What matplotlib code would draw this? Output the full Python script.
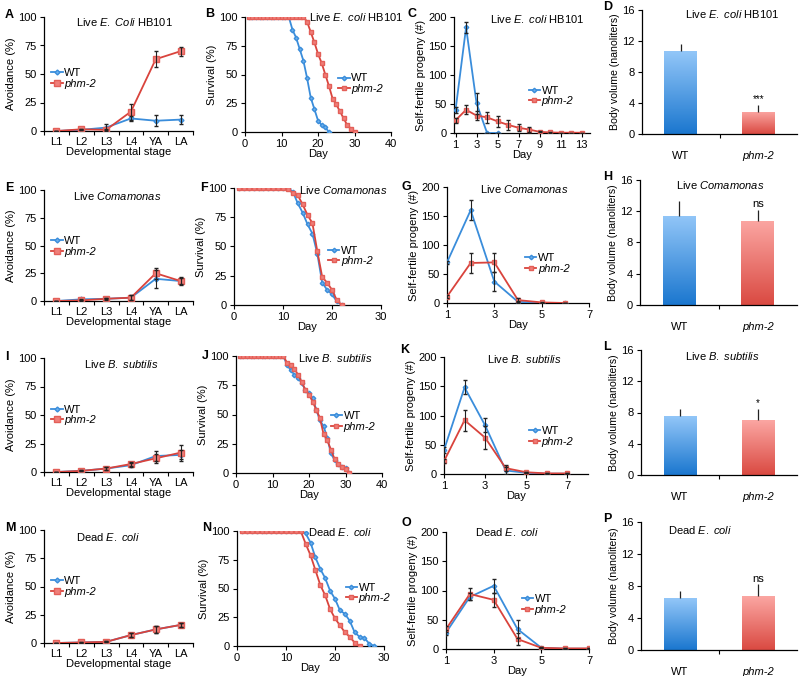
import numpy as np
import matplotlib
matplotlib.use("Agg")
import matplotlib.pyplot as plt
from matplotlib.colors import LinearSegmentedColormap

plt.rcParams["font.family"] = ["Liberation Sans", "DejaVu Sans"]
plt.rcParams["mathtext.fontset"] = "custom"
plt.rcParams["mathtext.rm"] = "Liberation Sans"
plt.rcParams["mathtext.it"] = "Liberation Sans:italic"
plt.rcParams["font.size"] = 8

# ---------------- data ----------------
stages = ["L1", "L2", "L3", "L4", "YA", "LA"]

# avoidance (%)
avoid_titles = [r"Live $\mathit{E.\ Coli}$ HB101", r"Live $\mathit{Comamonas}$",
                r"Live $\mathit{B.\ subtilis}$", r"Dead $\mathit{E.\ coli}$"]
avoid_wt = [[0, 1, 3, 11, 9, 10], [0, 1.5, 2, 3, 20, 18],
            [0, 1, 3, 6, 14, 15], [0, 0.5, 1, 7, 12, 16]]
avoid_wt_err = [[0, 0.5, 3, 2, 5, 4], [0, 0.5, 0.5, 2, 8, 3],
                [0, 0.5, 1, 2, 4, 4], [0, 0.3, 0.5, 1.5, 3, 2]]
avoid_ph = [[0, 1.5, 1, 17, 63, 70], [0, 0.5, 2, 3, 25, 18],
            [0, 1, 3, 7, 12, 17], [0, 0.5, 1, 7, 12, 16]]
avoid_ph_err = [[0, 0.5, 0.5, 7, 7, 4], [0, 0.3, 1, 2, 5, 4],
                [0, 0.5, 1, 2, 4, 7], [0, 0.3, 0.5, 1.5, 3, 2]]

# survival (%)
surv_titles = [r"Live $\mathit{E.\ coli}$ HB101", r"Live $\mathit{Comamonas}$",
               r"Live $\mathit{B.\ subtilis}$", r"Dead $\mathit{E.\ coli}$"]
surv_xmax = [40, 30, 40, 30]
surv_wt = [
    [100] * 12 + [89, 82, 72, 62, 47, 30, 20, 10, 6, 4, 0],
    [100] * 11 + [97, 87, 79, 69, 61, 44, 19, 13, 9, 3, 0],
    [100] * 13 + [92, 88, 84, 81, 77, 71, 68, 64, 54, 45, 40, 30, 17, 11, 8, 5, 4, 0],
    [100] * 13 + [98, 90, 77, 67, 59, 48, 41, 31, 28, 22, 12, 8, 7, 2, 0],
]
surv_ph = [
    [100] * 16 + [96, 87, 78, 68, 60, 50, 40, 29, 24, 18, 12, 6, 3, 0],
    [100] * 10 + [99, 96, 94, 86, 77, 70, 46, 24, 19, 13, 4, 0],
    [100] * 13 + [94, 92, 89, 84, 78, 71, 67, 61, 54, 47, 33, 28, 20, 12, 8, 5, 3, 0],
    [100] * 13 + [89, 79, 66, 53, 44, 32, 24, 18, 12, 8, 3, 0],
]

# self-fertile progeny (#)
prog_titles = [r"Live $\mathit{E.\ coli}$ HB101", r"Live $\mathit{Comamonas}$",
               r"Live $\mathit{B.\ subtilis}$", r"Dead $\mathit{E.\ coli}$"]
prog_wt = [[40, 182, 51, 0, 0], [70, 160, 37, 2, 0, 0],
           [41, 148, 83, 6, 2, 0.5, 0.5], [28, 89, 108, 34, 2, 0.5, 0.5]]
prog_wt_err = [[5, 10, 18, 0, 0], [3, 17, 16, 2, 0, 0],
               [5, 12, 12, 6, 1, 0, 0], [4, 6, 12, 15, 1, 0, 0]]
prog_ph = [[22, 40, 30, 27, 20, 14, 9, 6, 2, 1, 0.5, 0.5, 0.5],
           [11, 69, 70, 5, 1, 0],
           [22, 92, 62, 10, 3, 1, 1], [34, 94, 84, 17, 2, 1, 1]]
prog_ph_err = [[4, 8, 8, 10, 9, 8, 6, 4, 1, 0.5, 0, 0, 0],
               [3, 17, 17, 3, 1, 0],
               [3, 18, 20, 5, 1, 0, 0], [5, 10, 12, 10, 1, 0, 0]]
prog_ticks = [[1, 3, 5, 7, 9, 11, 13], [1, 3, 5, 7], [1, 3, 5, 7], [1, 3, 5, 7]]
prog_xlim = [(0.85, 13.8), (1, 7), (1, 8), (1, 7)]

# body volume (nanoliters)
vol_titles = [r"Live $\mathit{E.\ coli}$ HB101", r"Live $\mathit{Comamonas}$",
              r"Live $\mathit{B.\ subtilis}$", r"Dead $\mathit{E.\ coli}$"]
vol_wt = [10.7, 11.4, 7.5, 6.5]
vol_wt_err = [0.9, 1.9, 0.9, 0.9]
vol_ph = [2.9, 10.8, 7.0, 6.7]
vol_ph_err = [0.8, 1.4, 1.5, 1.5]
vol_sig = ["***", "ns", "*", "ns"]

letters = list("ABCDEFGHIJKLMNOP")

# ---------------- layout (pixels: left, right, top, bottom) ----------------
W, H = 800, 676
boxes = [
    [(44, 193, 17, 131), (245, 391, 17, 132), (454, 590, 17, 133), (642, 797, 10, 134)],
    [(44, 193, 190, 301), (234, 381, 188, 305), (447, 589, 187, 303), (640, 797, 180, 305)],
    [(44, 193, 358, 472), (236, 382, 356, 473), (444, 588, 357, 474), (641, 797, 350, 475)],
    [(44, 193, 530, 643), (237, 384, 531, 646), (446, 589, 532, 649), (641, 797, 522, 650)],
]
letter_pos = [[(5, 15), (205, 14), (408, 14), (603, 7)],
              [(5, 188), (200, 188), (401, 187), (603, 177)],
              [(5, 357), (202, 356), (400, 350), (603, 347)],
              [(5, 528), (202, 528), (402, 523), (603, 519)]]
title_pos = [[(0.54, 0.96), (0.76, 1.0), (0.61, 0.98), (0.58, 0.97)],
             [(0.49, 0.95), (0.74, 0.98), (0.54, 0.98), (0.51, 0.96)],
             [(0.52, 0.95), (0.68, 0.98), (0.56, 0.98), (0.52, 0.95)],
             [(0.43, 0.94), (0.70, 0.99), (0.43, 1.0), (0.38, 0.94)]]
leg_pos = [[(0.05, 0.46), (0.64, 0.42), (0.55, 0.32)],
           [(0.05, 0.49), (0.64, 0.42), (0.55, 0.34)],
           [(0.05, 0.50), (0.65, 0.44), (0.59, 0.32)],
           [(0.05, 0.50), (0.74, 0.46), (0.53, 0.38)]]

BLUE = "#3a8ddb"
RED = "#d9433c"


def make_ax(fig, box):
    l, r, t, b = box
    ax = fig.add_axes([l / W, 1 - b / H, (r - l) / W, (b - t) / H])
    for s in ["top", "right"]:
        ax.spines[s].set_visible(False)
    for s in ["left", "bottom"]:
        ax.spines[s].set_linewidth(0.9)
    ax.tick_params(direction="out", length=3, width=0.8, labelsize=8, pad=2)
    return ax


def add_legend(ax, pos):
    leg = ax.legend(["WT", "phm-2"], loc="center left", bbox_to_anchor=pos,
                    frameon=False, handlelength=1.0, handletextpad=0.15,
                    labelspacing=0.05, borderpad=0, borderaxespad=0, fontsize=8)
    leg.get_texts()[1].set_style("italic")


def plot_lines(ax, x, wt, ph, wt_err=None, ph_err=None, ms_wt=2.5, ms_ph=3.5):
    ax.plot(x[:len(wt)], wt, color=BLUE, lw=1.3, marker="D", ms=ms_wt,
            mfc="#6db0ec", mec=BLUE, zorder=3)
    ax.plot(x[:len(ph)], ph, color=RED, lw=1.3, marker="s", ms=ms_ph,
            mfc="#f07f7a", mec="#e35f58", zorder=3)
    if wt_err is not None:
        ax.errorbar(x[:len(wt)], wt, yerr=wt_err, fmt="none", ecolor="#222222",
                    elinewidth=0.8, capsize=1.2, zorder=4)
    if ph_err is not None:
        ax.errorbar(x[:len(ph)], ph, yerr=ph_err, fmt="none", ecolor="#222222",
                    elinewidth=0.8, capsize=1.2, zorder=4)


def gradient_bar(ax, x, h, width, top_col, bot_col):
    bar = ax.bar(x, h, width=width, color="none", edgecolor="none", zorder=2)[0]
    cmap = LinearSegmentedColormap.from_list("g", [bot_col, top_col])
    grad = np.linspace(0, 1, 100).reshape(-1, 1)
    im = ax.imshow(grad, cmap=cmap, aspect="auto", origin="lower",
                   extent=[x - width / 2, x + width / 2, 0, h], zorder=2)
    im.set_clip_path(bar)


fig = plt.figure(figsize=(8, 6.76), dpi=100)

for row in range(4):
    # avoidance
    ax = make_ax(fig, boxes[row][0])
    xs = np.arange(1, 7)
    plot_lines(ax, xs, avoid_wt[row], avoid_ph[row], avoid_wt_err[row], avoid_ph_err[row],
               ms_wt=2.5, ms_ph=4)
    ax.set_xlim(0.5, 6.5)
    ax.set_ylim(0, 100)
    ax.set_yticks([0, 25, 50, 75, 100])
    ax.set_xticks(xs)
    ax.set_xticklabels(stages)
    ax.set_xticks(np.arange(0.5, 7, 1), minor=True)
    ax.tick_params(axis="x", which="major", length=0, pad=4)
    ax.tick_params(axis="x", which="minor", length=3, width=0.8, direction="out")
    ax.set_xlabel("Developmental stage", labelpad=0)
    ax.set_ylabel("Avoidance (%)", labelpad=2)
    ax.text(*title_pos[row][0], avoid_titles[row], transform=ax.transAxes,
            ha="center", va="center", fontsize=8)
    add_legend(ax, leg_pos[row][0])

    # survival
    ax = make_ax(fig, boxes[row][1])
    days = np.arange(1, 41)
    plot_lines(ax, days, surv_wt[row], surv_ph[row], ms_wt=2.3, ms_ph=3.5)
    ax.set_xlim(0, surv_xmax[row])
    ax.set_ylim(0, 100)
    ax.set_yticks([0, 25, 50, 75, 100])
    ax.set_xticks(np.arange(0, surv_xmax[row] + 1, 10))
    ax.set_xlabel("Day", labelpad=0)
    ax.set_ylabel("Survival (%)", labelpad=2)
    ax.text(*title_pos[row][1], surv_titles[row], transform=ax.transAxes,
            ha="center", va="center", fontsize=8, clip_on=False)
    add_legend(ax, leg_pos[row][1])

    # progeny
    ax = make_ax(fig, boxes[row][2])
    days = np.arange(1, 14)
    plot_lines(ax, days, prog_wt[row], prog_ph[row], prog_wt_err[row], prog_ph_err[row],
               ms_wt=2.3, ms_ph=3.5)
    ax.set_xlim(*prog_xlim[row])
    ax.set_ylim(0, 200)
    ax.set_yticks([0, 50, 100, 150, 200])
    ax.set_xticks(prog_ticks[row])
    ax.set_xlabel("Day", labelpad=0)
    ax.set_ylabel("Self-fertile progeny (#)", labelpad=2)
    ax.text(*title_pos[row][2], prog_titles[row], transform=ax.transAxes,
            ha="center", va="center", fontsize=8)
    add_legend(ax, leg_pos[row][2])

    # body volume
    ax = make_ax(fig, boxes[row][3])
    bw = 0.42
    gradient_bar(ax, 1, vol_wt[row], bw, "#92c6f8", "#1b77cf")
    gradient_bar(ax, 2, vol_ph[row], bw, "#fba6a2", "#da4a42")
    ax.errorbar([1], [vol_wt[row]], yerr=[[0], [vol_wt_err[row]]], fmt="none",
                ecolor="#222222", elinewidth=0.9, capsize=0, zorder=3)
    ax.errorbar([2], [vol_ph[row]], yerr=[[0], [vol_ph_err[row]]], fmt="none",
                ecolor="#222222", elinewidth=0.9, capsize=0, zorder=3)
    ax.text(2, vol_ph[row] + vol_ph_err[row] + 0.1, vol_sig[row], ha="center",
            va="bottom", fontsize=8 if vol_sig[row] == "ns" else 7)
    ax.set_xlim(0.5, 2.5)
    ax.set_ylim(0, 16)
    ax.set_yticks([0, 4, 8, 12, 16])
    ax.set_xticks([1, 2])
    ax.set_xticklabels(["WT", "phm-2"])
    ax.get_xticklabels()[1].set_style("italic")
    ax.set_xticks([1.5], minor=True)
    ax.tick_params(axis="x", which="major", length=0, pad=12)
    ax.tick_params(axis="x", which="minor", length=3, width=0.8, direction="out")
    ax.set_ylabel("Body volume (nanoliters)", labelpad=2, fontsize=7.6)
    ax.text(*title_pos[row][3], vol_titles[row], transform=ax.transAxes,
            ha="center", va="center", fontsize=8)

    for col in range(4):
        lx, ly = letter_pos[row][col]
        fig.text(lx / W, 1 - ly / H, letters[row * 4 + col], fontsize=9,
                 fontweight="bold", ha="left", va="center")

fig.savefig("out.png", dpi=100)
